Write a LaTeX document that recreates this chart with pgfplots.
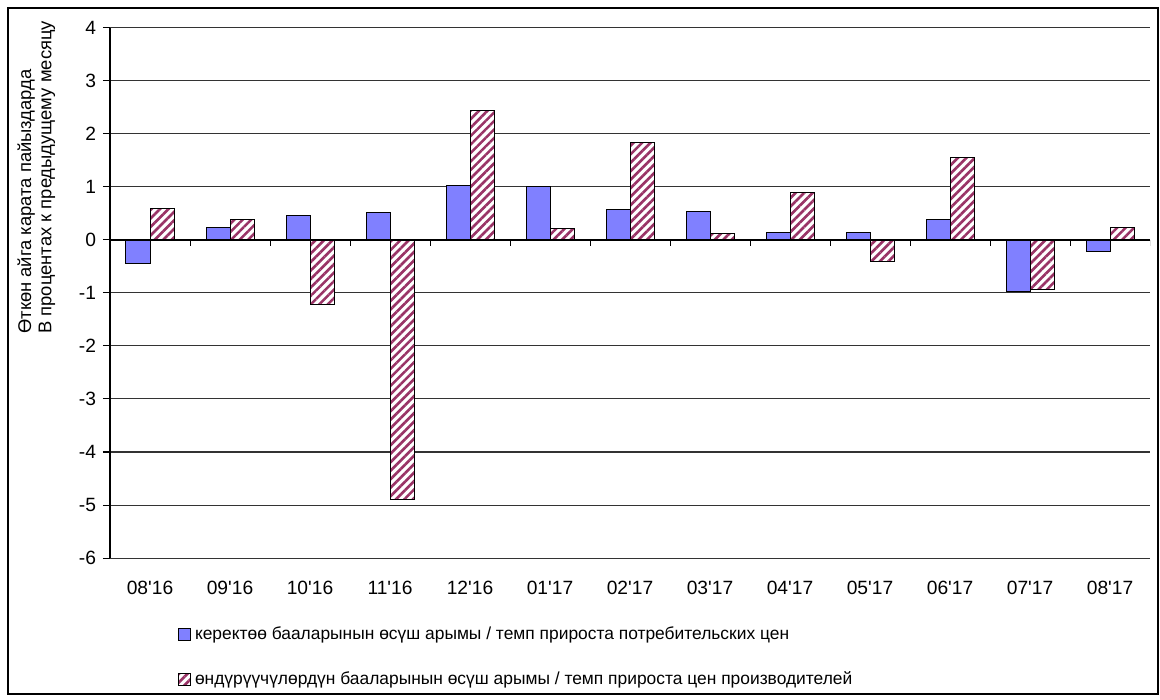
\documentclass[border=0pt]{standalone}
\usepackage{fontspec}
\setmainfont{Liberation Sans}
\usepackage{pgfplots}
\pgfplotsset{compat=1.18}
\usetikzlibrary{patterns.meta}
\definecolor{cpiblue}{HTML}{8080FF}
\definecolor{ppired}{HTML}{993366}
\newcommand{\q}{\textquotesingle}

\begin{document}
\begin{tikzpicture}[font=\fontsize{9.6}{11}\selectfont]
\path (-55pt,-71pt) rectangle (525pt,279pt);
\draw[black, line width=0.7pt] (-51pt,-68pt) rectangle (524pt,275pt);
\node[rotate=90, anchor=north west, align=left, inner sep=0pt,
      font=\fontsize{9.2}{10.2}\selectfont] at (-46.5pt,112pt)
  {Өткөн айга карата пайыздарда\\В процентах к предыдущему месяцу};
\begin{axis}[
  at={(0,0)}, anchor=south west,
  scale only axis, width=520pt, height=265pt,
  xmin=-0.5, xmax=12.5, ymin=-6, ymax=4,
  ybar=0pt, bar width=0.3,
  axis lines*=left,
  x axis line style={draw=none},
  y axis line style={black, line width=0.8pt},
  xtick={0,...,12},
  xticklabels={08\q16,09\q16,10\q16,11\q16,12\q16,01\q17,02\q17,03\q17,04\q17,05\q17,06\q17,07\q17,08\q17},
  major x tick style={draw=none},
  xticklabel style={yshift=-4.5pt},
  ytick={-6,...,4},
  tick align=outside, major tick length=3.5pt,
  major y tick style={black, line width=0.5pt},
  ymajorgrids, grid style={black!80, line width=0.5pt},
  /pgf/number format/assume math mode=true,
  tick label style={font=\fontsize{9.6}{11}\selectfont},
  legend style={at={(axis description cs:0.065,-0.122)}, anchor=north west,
    draw=none, fill=none, row sep=10.5pt, inner sep=0pt,
    font=\fontsize{8.7}{10}\selectfont, cells={anchor=west},
    legend cell align=left},
  legend image code/.code={\draw[#1] (0pt,-3pt) rectangle (6pt,3pt);},
]
\addplot[bar shift=-0.15, fill=cpiblue, draw=black, line width=0.5pt] coordinates
  {(0,-0.45) (1,0.23) (2,0.46) (3,0.51) (4,1.03) (5,1.0) (6,0.58)
   (7,0.54) (8,0.15) (9,0.15) (10,0.39) (11,-0.98) (12,-0.22)};
\addlegendentry{керектөө бааларынын өсүш арымы / темп прироста потребительских цен}
\addplot[bar shift=0.15, fill=white, draw=black, line width=0.5pt,
  postaction={pattern={Lines[angle=45,distance=3pt,line width=1.3pt]}, pattern color=ppired}] coordinates
  {(0,0.6) (1,0.39) (2,-1.21) (3,-4.9) (4,2.44) (5,0.21) (6,1.84)
   (7,0.13) (8,0.9) (9,-0.41) (10,1.55) (11,-0.93) (12,0.23)};
\addlegendentry{өндүрүүчүлөрдүн бааларынын өсүш арымы / темп прироста цен производителей}
\draw[black, line width=0.6pt] (axis cs:-0.5,0) -- (axis cs:12.5,0);
\pgfplotsinvokeforeach{0.5,1.5,...,12.5}{
  \draw[black, line width=0.5pt] (axis cs:#1,0) -- ++(0pt,-3pt);
}
\end{axis}
\end{tikzpicture}
\end{document}
